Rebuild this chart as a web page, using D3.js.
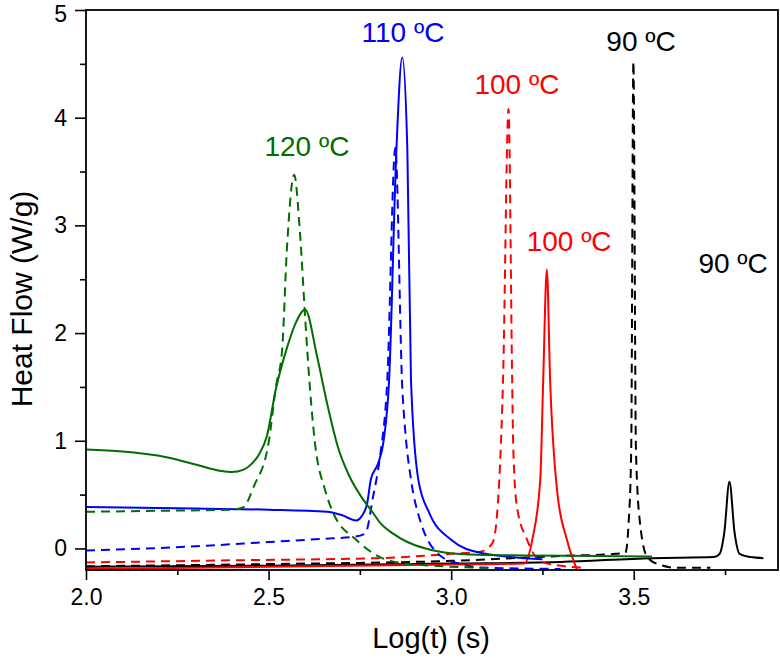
<!DOCTYPE html>
<html>
<head>
  <meta charset="utf-8">
  <title>Heat flow vs log time</title>
  <style>
    body { margin: 0; background: #fff; }
    text { font-family: Arial, "Liberation Sans", sans-serif; }
  </style>
</head>
<body>
<script src="https://cdn.jsdelivr.net/npm/d3@7"></script>
<script>

// ---- data ----
var xTicks = [2.0, 2.5, 3.0, 3.5],
    xMinor = [2.25, 2.75, 3.25, 3.75],
    yTicks = [0, 1, 2, 3, 4, 5],
    yMinor = [0.5, 1.5, 2.5, 3.5, 4.5];

var green120 = [[2.0,0.92],[2.1,0.90],[2.2,0.86],[2.3,0.78],[2.37,0.72],[2.4,0.71],[2.43,0.73],[2.455,0.79],[2.475,0.88],[2.495,1.04],[2.52,1.48],[2.55,1.86],[2.575,2.1],[2.60,2.22],[2.633,1.78],[2.66,1.35],[2.69,0.94],[2.72,0.68],[2.75,0.5],[2.786,0.33],[2.805,0.24],[2.84,0.14],[2.88,0.06],[2.93,0.0],[2.97,-0.03],[3.05,-0.055],[3.2,-0.065],[3.4,-0.07],[3.55,-0.075]];
var green120d = [[2.0,0.34],[2.2,0.35],[2.4,0.36],[2.43,0.38],[2.46,0.58],[2.50,0.98],[2.52,1.5],[2.537,1.84],[2.55,2.77],[2.57,3.47],[2.586,2.93],[2.60,2.15],[2.613,1.5],[2.627,0.98],[2.655,0.54],[2.677,0.33],[2.74,0.08],[2.805,-0.08],[2.855,-0.13],[2.95,-0.16],[3.1,-0.18]];

var blue110 = [[2.0,0.385],[2.3,0.37],[2.5,0.36],[2.66,0.34],[2.70,0.31],[2.74,0.26],[2.755,0.3],[2.77,0.42],[2.78,0.64],[2.80,0.79],[2.815,1.0],[2.83,1.56],[2.85,3.7],[2.866,4.56],[2.88,3.7],[2.89,1.56],[2.91,0.64],[2.94,0.33],[3.0,0.08],[3.08,-0.04],[3.25,-0.10]];
var blue110d = [[2.0,-0.02],[2.3,0.02],[2.5,0.06],[2.65,0.09],[2.737,0.11],[2.765,0.14],[2.786,0.48],[2.805,0.85],[2.825,1.56],[2.847,3.72],[2.866,1.5],[2.874,1.1],[2.89,0.64],[2.915,0.26],[2.975,-0.08],[3.02,-0.14],[3.1,-0.18],[3.3,-0.19]];

var red100 = [[2.0,-0.19],[2.5,-0.17],[3.0,-0.15],[3.2,-0.14],[3.222,0.08],[3.244,0.64],[3.252,1.56],[3.262,2.59],[3.271,1.56],[3.29,0.54],[3.317,0.08],[3.345,-0.2]];
var red100d = [[2.0,-0.13],[2.4,-0.11],[2.8,-0.09],[3.0,-0.05],[3.08,-0.03],[3.113,0.05],[3.126,0.33],[3.134,0.79],[3.142,1.56],[3.157,4.08],[3.167,1.56],[3.17,0.94],[3.18,0.39],[3.208,0.08],[3.244,-0.12],[3.3,-0.16],[3.37,-0.18]];

var black90 = [[2.0,-0.17],[2.5,-0.16],[3.0,-0.14],[3.3,-0.125],[3.55,-0.09],[3.72,-0.08],[3.735,-0.05],[3.748,0.15],[3.762,0.62],[3.776,0.15],[3.79,-0.05],[3.82,-0.08],[3.855,-0.09]];
var black90d = [[2.0,-0.165],[2.5,-0.145],[3.0,-0.115],[3.3,-0.07],[3.45,-0.05],[3.477,-0.04],[3.486,0.24],[3.493,0.91],[3.499,4.52],[3.506,0.91],[3.517,0.24],[3.537,-0.08],[3.57,-0.15],[3.62,-0.18],[3.71,-0.18]];

var series = [
  {name: '90 solid',   pts: black90,   color: '#000000', dash: null},
  {name: '90 dashed',  pts: black90d,  color: '#000000', dash: '9,6'},
  {name: '100 solid',  pts: red100,    color: '#ff0000', dash: null},
  {name: '100 dashed', pts: red100d,   color: '#ff0000', dash: '9,6'},
  {name: '110 solid',  pts: blue110,   color: '#0000ff', dash: null},
  {name: '110 dashed', pts: blue110d,  color: '#0000ff', dash: '9,6'},
  {name: '120 solid',  pts: green120,  color: '#006e00', dash: null},
  {name: '120 dashed', pts: green120d, color: '#006e00', dash: '9,6'}
];

var labels = [
  {text: '120 ºC', x: 2.605, y: 3.64, color: '#006e00'},
  {text: '110 ºC', x: 2.868, y: 4.7,  color: '#0000ff'},
  {text: '100 ºC', x: 3.18,  y: 4.22, color: '#ff0000'},
  {text: '100 ºC', x: 3.323, y: 2.76, color: '#ff0000'},
  {text: '90 ºC',  x: 3.52,  y: 4.62, color: '#000000'},
  {text: '90 ºC',  x: 3.772, y: 2.56, color: '#000000'}
];

// ---- layout ----
var W = 780, H = 658,
    m = {left: 86, right: 2, top: 10, bottom: 88};

var svg = d3.select('body').append('svg')
  .attr('width', W)
  .attr('height', H);

var x = d3.scaleLinear().domain([2.0, 3.895]).range([m.left, W - m.right]),
    y = d3.scaleLinear().domain([-0.2, 5]).range([H - m.bottom, m.top]);

var line = d3.line()
  .x(function(d){ return x(d[0]) })
  .y(function(d){ return y(d[1]) })
  .curve(d3.curveMonotoneX);

svg.append('defs').append('clipPath').attr('id', 'clip')
  .append('rect')
  .attr('x', m.left).attr('y', m.top)
  .attr('width', W - m.right - m.left)
  .attr('height', H - m.bottom - m.top);

svg.append('g').attr('clip-path', 'url(#clip)')
  .selectAll('path')
  .data(series)
  .enter().append('path')
  .attr('d', function(d){ return line(d.pts) })
  .attr('fill', 'none')
  .attr('stroke', function(d){ return d.color })
  .attr('stroke-width', 2)
  .attr('stroke-dasharray', function(d){ return d.dash });

// axes
var bottom = H - m.bottom;

svg.append('g')
  .attr('transform', 'translate(0,' + bottom + ')')
  .call(d3.axisBottom(x).tickValues(xTicks).tickSize(10).tickPadding(9)
        .tickFormat(d3.format('.1f')));
svg.append('g')
  .attr('transform', 'translate(0,' + bottom + ')')
  .call(d3.axisBottom(x).tickValues(xMinor).tickSize(5).tickFormat(''));

svg.append('g')
  .attr('transform', 'translate(' + m.left + ',0)')
  .call(d3.axisLeft(y).tickValues(yTicks).tickSize(11).tickPadding(8)
        .tickFormat(d3.format('d')));
svg.append('g')
  .attr('transform', 'translate(' + m.left + ',0)')
  .call(d3.axisLeft(y).tickValues(yMinor).tickSize(6).tickFormat(''));

svg.selectAll('.domain').remove();
svg.selectAll('.tick line').attr('stroke', '#000').attr('stroke-width', 1.6);
svg.selectAll('.tick text').attr('font-size', 23).attr('fill', '#000')
  .style('font-family', 'Arial, "Liberation Sans", sans-serif');
// keep the top "5" inside the picture
svg.selectAll('.tick text').filter(function(d){ return d === 5 }).attr('dy', '0.5em');

// frame
svg.append('rect')
  .attr('x', m.left).attr('y', m.top)
  .attr('width', W - m.right - m.left)
  .attr('height', H - m.bottom - m.top)
  .attr('fill', 'none')
  .attr('stroke', '#000')
  .attr('stroke-width', 1.8);

// axis titles
svg.append('text')
  .attr('x', (m.left + W - m.right) / 2 - 1)
  .attr('y', 648)
  .attr('text-anchor', 'middle')
  .attr('font-size', 29)
  .text('Log(t) (s)');

svg.append('text')
  .attr('transform', 'translate(32,' + ((m.top + bottom) / 2 + 9) + ') rotate(-90)')
  .attr('text-anchor', 'middle')
  .attr('font-size', 30)
  .text('Heat Flow (W/g)');

// peak labels
svg.selectAll('.lbl')
  .data(labels)
  .enter().append('text')
  .attr('class', 'lbl')
  .attr('x', function(d){ return x(d.x) })
  .attr('y', function(d){ return y(d.y) })
  .attr('text-anchor', 'middle')
  .attr('font-size', 28)
  .attr('fill', function(d){ return d.color })
  .text(function(d){ return d.text });

</script>
</body>
</html>
